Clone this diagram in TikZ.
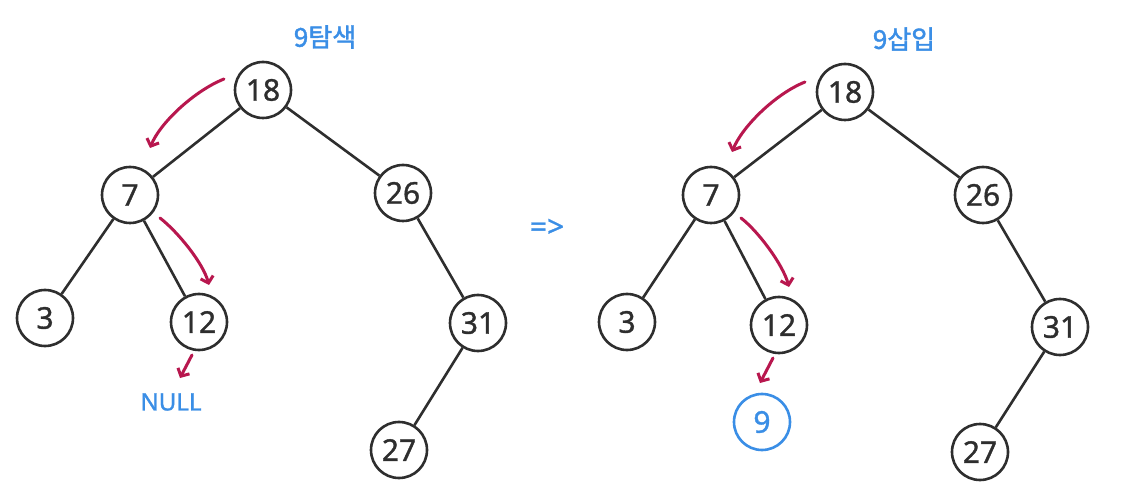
\documentclass[tikz,border=0pt]{standalone}
\usepackage{fontspec}
\setmainfont{Noto Sans}
\newfontfamily\kr[FakeBold=1.5]{Noto Sans CJK KR}
\newfontfamily\lab[FakeBold=1.2]{Noto Sans}
\usetikzlibrary{arrows.meta,calc}
\definecolor{inkred}{HTML}{B8174E}
\definecolor{inkblue}{HTML}{3A8EE6}
\definecolor{inkblack}{HTML}{2E2E2E}
\tikzset{
  bnode/.style={circle,draw=inkblack,line width=2.6pt,minimum size=56pt,inner sep=0pt,font=\lab\fontsize{30}{30}\selectfont,text=inkblack},
  newnode/.style={bnode,draw=inkblue,text=inkblue},
  edge/.style={draw=inkblack,line width=2.6pt},
  walk/.style={draw=inkred,line width=3pt,line cap=round,-{Straight Barb[length=6pt,width=13pt,line width=3pt]}},
  note/.style={text=inkblue,inner sep=0pt}
}
\begin{document}
\begin{tikzpicture}[x=1pt,y=1pt]
\useasboundingbox (0,0) rectangle (1135,493);
\fill[white] (0,0) rectangle (1135,493);
% ---------- left tree ----------
\node[bnode] (L18) at (263,403) {18};
\node[bnode] (L7)  at (130,298) {7};
\node[bnode] (L26) at (403,300) {26};
\node[bnode] (L3)  at (45,175)  {3};
\node[bnode] (L12) at (199,171) {12};
\node[bnode] (L31) at (478,170) {31};
\node[bnode] (L27) at (399,43)  {27};
\draw[edge] (L18) -- (L7);
\draw[edge] (L18) -- (L26);
\draw[edge] (L7) -- (L3);
\draw[edge] (L7) -- (L12);
\draw[edge] (L26) -- (L31);
\draw[edge] (L31) -- (L27);
\node[note,font=\kr\fontsize{26}{26}\selectfont] (Lt) at (325,456) {9탐색};
\node[note,font=\lab\fontsize{24}{24}\selectfont] (null) at (171,91) {NULL};
\coordinate (La1) at ($(L18)+(-39,11)$);
\coordinate (La2) at ($(L18)+(-113,-58)$);
\draw[walk] (La1) .. controls ($(L18)+(-69,-1)$) and ($(L18)+(-103,-33)$) .. (La2);
\coordinate (Lb1) at ($(L7)+(30,-23)$);
\coordinate (Lb2) at ($(L7)+(79,-90)$);
\draw[walk] (Lb1) .. controls ($(L7)+(48,-37)$) and ($(L7)+(73,-68)$) .. (Lb2);
\coordinate (Lc1) at ($(L12)+(-7,-33)$);
\coordinate (Lc2) at ($(L12)+(-19,-56)$);
\draw[walk] (Lc1) -- (Lc2);
% ---------- arrow between ----------
\node[note,font=\lab\fontsize{30}{30}\selectfont] (impl) at (547,265) {=>};
% ---------- right tree ----------
\node[bnode] (R18) at (845,401) {18};
\node[bnode] (R7)  at (711,298) {7};
\node[bnode] (R26) at (983,298) {26};
\node[bnode] (R3)  at (627,171) {3};
\node[bnode] (R12) at (779,168) {12};
\node[bnode] (R31) at (1060,166) {31};
\node[bnode] (R27) at (980,41)  {27};
\node[newnode] (R9) at (762,71) {9};
\draw[edge] (R18) -- (R7);
\draw[edge] (R18) -- (R26);
\draw[edge] (R7) -- (R3);
\draw[edge] (R7) -- (R12);
\draw[edge] (R26) -- (R31);
\draw[edge] (R31) -- (R27);
\node[note,font=\kr\fontsize{26}{26}\selectfont] (Rt) at (904,454) {9삽입};
\coordinate (Ra1) at ($(R18)+(-40,10)$);
\coordinate (Ra2) at ($(R18)+(-113,-60)$);
\draw[walk] (Ra1) .. controls ($(R18)+(-70,-2)$) and ($(R18)+(-103,-35)$) .. (Ra2);
\coordinate (Rb1) at ($(R7)+(30,-23)$);
\coordinate (Rb2) at ($(R7)+(78,-92)$);
\draw[walk] (Rb1) .. controls ($(R7)+(48,-37)$) and ($(R7)+(72,-70)$) .. (Rb2);
\coordinate (Rc1) at ($(R12)+(-6,-33)$);
\coordinate (Rc2) at ($(R12)+(-19,-58)$);
\draw[walk] (Rc1) -- (Rc2);
\end{tikzpicture}
\end{document}
